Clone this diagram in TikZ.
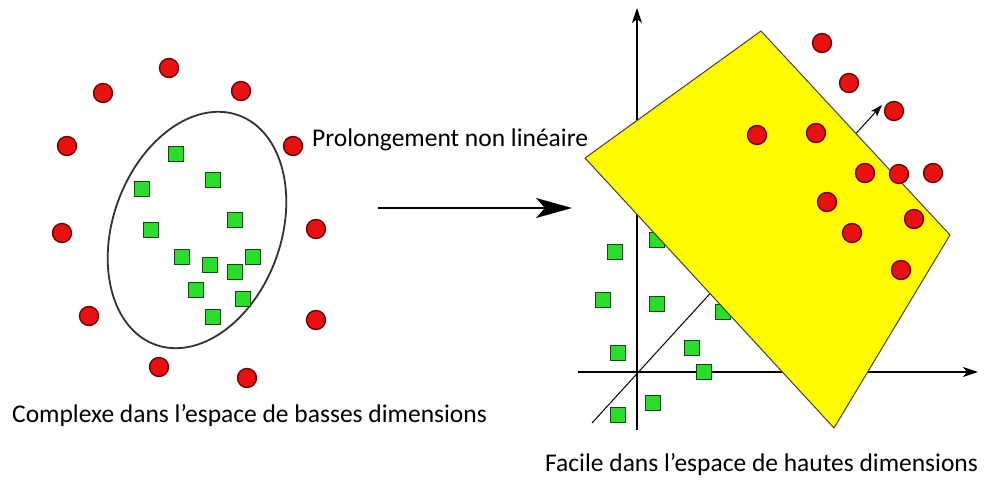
\documentclass[tikz,border=0pt]{standalone}
\usepackage{fontspec}
\setmainfont{Carlito}
\usetikzlibrary{arrows.meta}
\definecolor{ptred}{RGB}{232,16,16}
\definecolor{ptredborder}{RGB}{110,0,0}
\definecolor{ptgreen}{RGB}{40,222,40}
\definecolor{ptgreenborder}{RGB}{20,70,20}
\definecolor{planeyellow}{RGB}{255,250,0}
\tikzset{
  redpt/.style={circle, fill=ptred, draw=ptredborder, line width=1.4pt, minimum size=19pt, inner sep=0pt},
  greenpt/.style={rectangle, fill=ptgreen, draw=ptgreenborder, line width=1.4pt, minimum size=15pt, inner sep=0pt},
  axisline/.style={line width=1.6pt, -{Stealth[length=15pt, width=10pt, inset=4pt]}},
  caption/.style={anchor=west, font=\fontsize{25.5}{28}\selectfont, inner sep=0pt}
}
\begin{document}
\begin{tikzpicture}[x=1pt, y=-1pt]
    \useasboundingbox[fill=white] (0,0) rectangle (988,481);

    % Espace de basses dimensions : ellipse
    \draw[line width=1.8pt, black!80, rotate around={-20:(197,230)}] (197,230) ellipse [x radius=84, y radius=122];

    % Carres verts (a l'interieur)
    \node[greenpt] (g1) at (176,154) {};
    \node[greenpt] (g2) at (142,189) {};
    \node[greenpt] (g3) at (213,180) {};
    \node[greenpt] (g4) at (151,230) {};
    \node[greenpt] (g5) at (235,220) {};
    \node[greenpt] (g6) at (182,257) {};
    \node[greenpt] (g7) at (210,265) {};
    \node[greenpt] (g8) at (253,257) {};
    \node[greenpt] (g9) at (235,272) {};
    \node[greenpt] (g10) at (196,290) {};
    \node[greenpt] (g11) at (243,299) {};
    \node[greenpt] (g12) at (213,317) {};

    % Cercles rouges (autour)
    \node[redpt] (r1) at (169,68) {};
    \node[redpt] (r2) at (103,93) {};
    \node[redpt] (r3) at (241,91) {};
    \node[redpt] (r4) at (67,146) {};
    \node[redpt] (r5) at (293,146) {};
    \node[redpt] (r6) at (62,233) {};
    \node[redpt] (r7) at (316,229) {};
    \node[redpt] (r8) at (89,316) {};
    \node[redpt] (r9) at (316,320) {};
    \node[redpt] (r10) at (159,367) {};
    \node[redpt] (r11) at (247,378) {};

    % Fleche centrale
    \coordinate (mapfrom) at (378,208);
    \coordinate (mapto) at (572,208);
    \draw[line width=2.2pt, -{Stealth[length=36pt, width=20pt, inset=9pt]}] (mapfrom) -- (mapto);
    \node[caption] (maplabel) at (312,140) {Prolongement non linéaire};

    % Espace de hautes dimensions : axes
    \coordinate (origin) at (637,372);
    \coordinate (ytop) at (637,8);
    \coordinate (ybot) at (637,430);
    \coordinate (xleft) at (578,372);
    \coordinate (xright) at (978,372);
    \coordinate (zbot) at (592,423);
    \coordinate (ztop) at (882,105);
    \draw[axisline] (ybot) -- (ytop);
    \draw[axisline] (xleft) -- (xright);
    \draw[line width=1pt, -{Stealth[length=12pt, width=8pt, inset=3pt]}] (zbot) -- (ztop);

    % Carres verts (sous le plan)
    \node[greenpt] (h1) at (615,252) {};
    \node[greenpt] (h2) at (657,240) {};
    \node[greenpt] (h3) at (603,300) {};
    \node[greenpt] (h4) at (657,304) {};
    \node[greenpt] (h5) at (723,312) {};
    \node[greenpt] (h6) at (618,353) {};
    \node[greenpt] (h7) at (692,348) {};
    \node[greenpt] (h8) at (704,372) {};
    \node[greenpt] (h9) at (653,403) {};
    \node[greenpt] (h10) at (618,415) {};

    % Plan separateur
    \draw[fill=planeyellow, draw=black!75, line width=1pt, line join=round]
        (761,31) -- (950,235) -- (834,428) -- (585,158) -- cycle;

    % Cercles rouges (au-dessus)
    \node[redpt] (s1) at (822,43) {};
    \node[redpt] (s2) at (849,83) {};
    \node[redpt] (s3) at (894,111) {};
    \node[redpt] (s4) at (757,135) {};
    \node[redpt] (s5) at (816,133) {};
    \node[redpt] (s6) at (865,173) {};
    \node[redpt] (s7) at (899,174) {};
    \node[redpt] (s8) at (933,173) {};
    \node[redpt] (s9) at (827,202) {};
    \node[redpt] (s10) at (914,219) {};
    \node[redpt] (s11) at (852,233) {};
    \node[redpt] (s12) at (901,270) {};

    % Legendes
    \node[caption] (lowdim) at (12,416) {Complexe dans l’espace de basses dimensions};
    \node[caption] (highdim) at (545,465) {Facile dans l’espace de hautes dimensions};
\end{tikzpicture}
\end{document}
